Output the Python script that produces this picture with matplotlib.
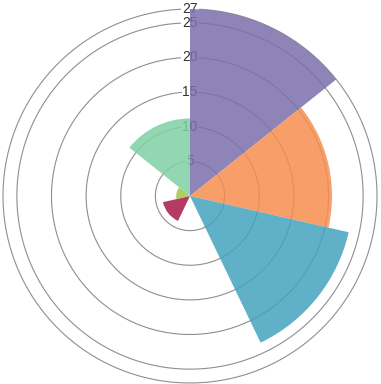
import numpy as np
import matplotlib
matplotlib.use("Agg")
import matplotlib.pyplot as plt

# polar area segments, clockwise from 12 o'clock
values = [27, 20.5, 23.5, 0, 4, 2, 11.2]
colors = ['#7b6fac', '#f68d4f', '#44a3bd', '#9aa7c9', '#a8184a', '#a6c447', '#7fd1a5']
ring_values = [5, 10, 15, 20, 25, 27]
ring_labels = ['5', '10', '15', '20', '25', '27']
r_max = 27

plt.rcParams['font.family'] = ['Liberation Sans', 'DejaVu Sans']

fig = plt.figure(figsize=(3.81, 3.84), dpi=100)
# center at (190, 196) px, radius 187 px
ax = fig.add_axes([3 / 381, 1 / 384, 374 / 381, 374 / 384], projection='polar')
ax.set_theta_zero_location('N')
ax.set_theta_direction(-1)
ax.set_ylim(0, r_max)
ax.grid(False)
ax.set_xticks([])
ax.set_yticks([])
ax.spines['polar'].set_visible(False)
ax.patch.set_alpha(0)

# rings
t = np.linspace(0, 2 * np.pi, 400)
for r in ring_values:
    ax.plot(t, np.full_like(t, r), color='#8f8f8f', lw=0.8, zorder=1, clip_on=False)

# tick labels on the vertical axis
for r, lab in zip(ring_values, ring_labels):
    ax.text(0, r, lab, ha='center', va='center', fontsize=10, color='#333333',
            zorder=2, bbox=dict(boxstyle='square,pad=0.05', fc='white', ec='none'))

n = len(values)
w = 2 * np.pi / n
theta = np.arange(n) * w + w / 2
ax.bar(theta, values, width=w, color=colors, alpha=0.85, linewidth=0, zorder=3)

fig.savefig('out.png', dpi=100)
